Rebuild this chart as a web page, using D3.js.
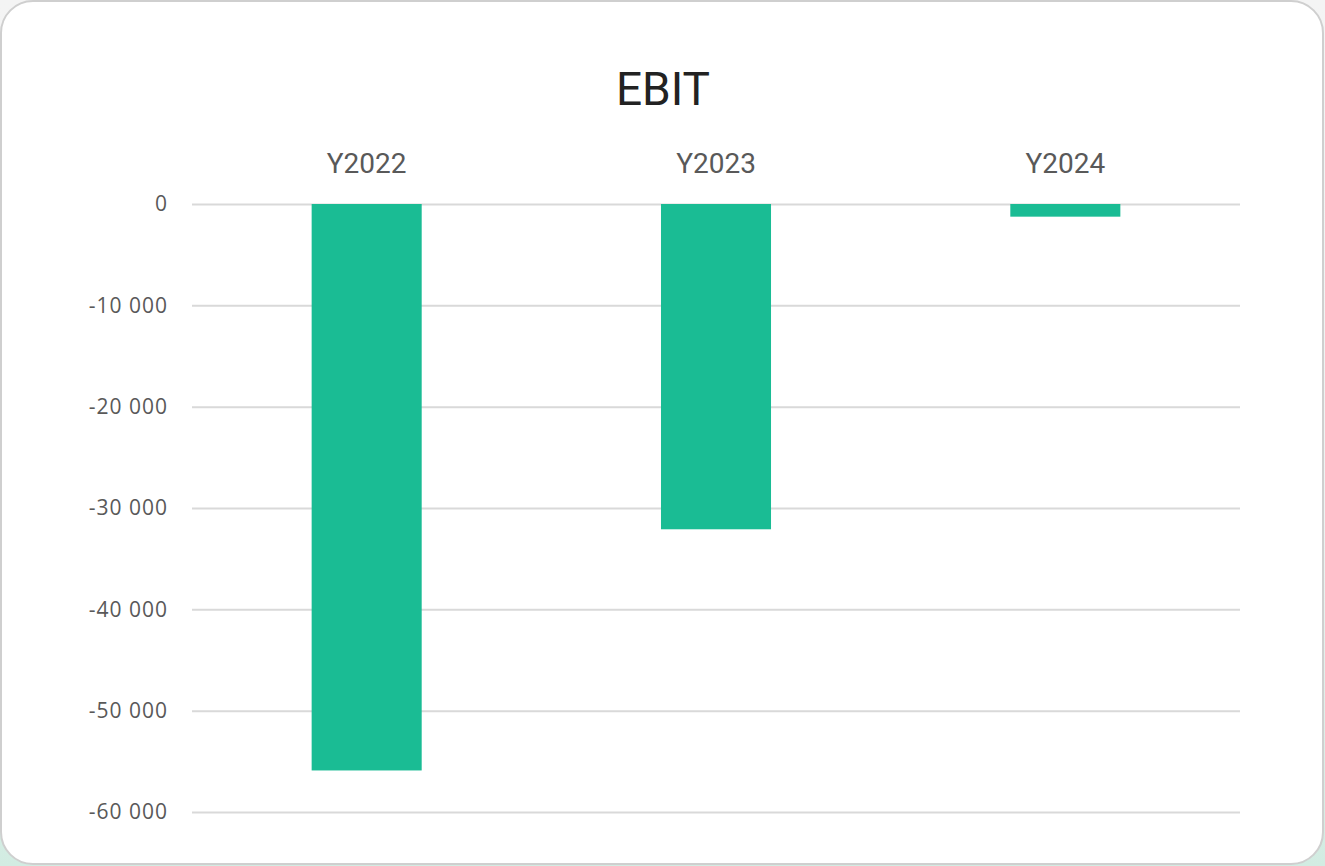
<!DOCTYPE html>
<html>
<head>
<meta charset="utf-8">
<script src="https://cdn.jsdelivr.net/npm/d3@7"></script>
<style>
  html, body { margin: 0; padding: 0; }
  body { width: 1325px; height: 866px; overflow: hidden;
         background: linear-gradient(180deg, #f4f4f4 0%, #eef3f1 60%, #d2ece2 100%); }
  svg { display: block; }
</style>
</head>
<body>
<svg id="chart" width="1325" height="866"></svg>
<script>
const categories = ["Y2022", "Y2023", "Y2024"];
const values = [-55900, -32100, -1250];
const tickValues = [0, -10000, -20000, -30000, -40000, -50000, -60000];
const tickLabels = ["0", "-10 000", "-20 000", "-30 000", "-40 000", "-50 000", "-60 000"];
const title = "EBIT";

const svg = d3.select("#chart");

svg.append("rect")
  .attr("x", 1).attr("y", 1)
  .attr("width", 1322).attr("height", 863)
  .attr("rx", 32).attr("ry", 32)
  .attr("fill", "#ffffff")
  .attr("stroke", "#cfcfcf")
  .attr("stroke-width", 2);

const plot = { left: 192, right: 1240, top: 204, bottom: 812 };

const x = d3.scaleBand()
  .domain(categories)
  .range([plot.left, plot.right])
  .paddingInner(0.685)
  .paddingOuter(0.3425);

const y = d3.scaleLinear()
  .domain([0, -60000])
  .range([plot.top, plot.bottom]);

// gridlines
const yAxis = d3.axisLeft(y)
  .tickValues(tickValues)
  .tickSize(-(plot.right - plot.left))
  .tickPadding(24)
  .tickFormat((d, i) => tickLabels[i]);

const gy = svg.append("g")
  .attr("transform", `translate(${plot.left},0)`)
  .call(yAxis);
gy.select(".domain").remove();
gy.selectAll(".tick line").attr("stroke", "#d9d9d9").attr("stroke-width", 2);
gy.selectAll(".tick text")
  .attr("fill", "#595959")
  .style("font-family", "'Open Sans', 'Noto Sans', sans-serif")
  .style("font-size", "21px")
  .style("letter-spacing", "1px");

// bars
svg.append("g").selectAll("rect")
  .data(values)
  .join("rect")
  .attr("x", (d, i) => x(categories[i]))
  .attr("width", x.bandwidth())
  .attr("y", d => y(Math.max(0, d)))
  .attr("height", d => Math.abs(y(d) - y(0)))
  .attr("fill", "#1abc94");

// category labels (top axis)
const xAxis = d3.axisTop(x).tickSize(0).tickPadding(0);
const gx = svg.append("g")
  .attr("transform", `translate(0,173)`)
  .call(xAxis);
gx.select(".domain").remove();
gx.selectAll(".tick text")
  .attr("fill", "#595959")
  .attr("dy", "0")
  .style("font-family", "Roboto, 'Open Sans', sans-serif")
  .style("font-size", "28px");

// title
svg.append("text")
  .attr("x", 663)
  .attr("y", 105)
  .attr("text-anchor", "middle")
  .attr("fill", "#222222")
  .style("font-family", "Roboto, 'Open Sans', sans-serif")
  .style("font-size", "46px")
  .text(title);
</script>
</body>
</html>
